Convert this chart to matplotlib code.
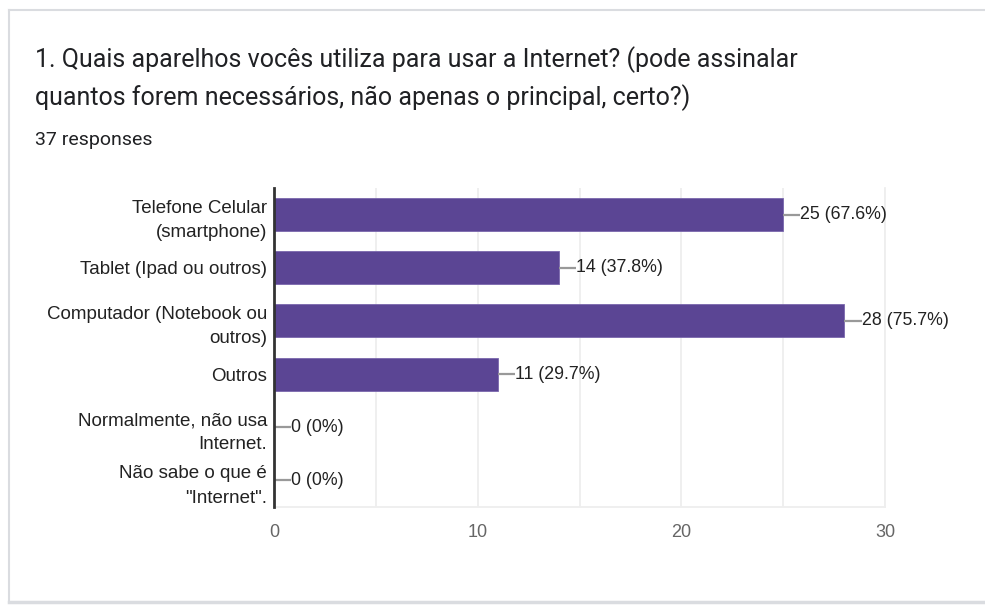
import matplotlib
matplotlib.use("Agg")
import matplotlib.pyplot as plt
from matplotlib.lines import Line2D

# survey answers
options = ["Telefone Celular\n(smartphone)", "Tablet (Ipad ou outros)",
           "Computador (Notebook ou\noutros)", "Outros",
           "Normalmente, não usa\nInternet.", "Não sabe o que é\n\"Internet\"."]
counts = [25, 14, 28, 11, 0, 0]
percents = ["67.6%", "37.8%", "75.7%", "29.7%", "0%", "0%"]
total = 37

title_lines = ["1. Quais aparelhos vocês utiliza para usar a Internet? (pode assinalar",
               "quantos forem necessários, não apenas o principal, certo?)"]

W, H = 985, 606
fig = plt.figure(figsize=(W / 100, H / 100), dpi=100)
fig.patch.set_facecolor("white")

def px(x, y):
    return x / W, 1 - y / H

# card outline
border = "#dadce0"
fig.add_artist(Line2D([9 / W, 9 / W], [1 - 10 / H, 1 - 602 / H], color=border, lw=1.5))
fig.add_artist(Line2D([9 / W, 1], [1 - 10 / H, 1 - 10 / H], color=border, lw=1.5))
fig.add_artist(Line2D([9 / W, 1], [1 - 602 / H, 1 - 602 / H], color=border, lw=2.5))

for i, line in enumerate(title_lines):
    fig.text(*px(35, 67 + 38 * i), line, fontsize=18, family="Roboto",
             color="#202124", va="baseline", ha="left")
fig.text(*px(35, 145), f"{total} responses", fontsize=14, family="Roboto",
         color="#202124", va="baseline", ha="left")

left, right, top, bottom = 274, 885, 188, 507
ax = fig.add_axes([left / W, 1 - bottom / H, (right - left) / W, (bottom - top) / H])

ypos = list(range(len(options)))
ax.barh(ypos, counts, height=0.62, color="#5b4594", edgecolor="#7a67ad",
        linewidth=0.6, zorder=3)

for y, c, p in zip(ypos, counts, percents):
    ax.plot([c, c + 0.85], [y, y], color="#999999", lw=1.6, zorder=4,
            solid_capstyle="butt")
    ax.text(c + 0.85, y, f"{c} ({p})", va="center", ha="left", fontsize=12.8,
            family="Liberation Sans", color="#222222", zorder=5)

ax.set_xlim(0, 30)
ax.set_ylim(len(options) - 0.5, -0.5)
ax.set_yticks(ypos)
ax.set_yticklabels(options, fontsize=13.5, family="Liberation Sans", color="#222222",
                   linespacing=1.55)
ax.set_xticks([0, 10, 20, 30])
ax.set_xticks([5, 15, 25], minor=True)
ax.set_xticklabels(["0", "10", "20", "30"], fontsize=13, family="Liberation Sans",
                   color="#666666")
ax.tick_params(axis="both", which="both", length=0)
ax.tick_params(axis="x", pad=12)
ax.tick_params(axis="y", pad=5)
ax.grid(axis="x", which="both", color="#eeeeee", lw=1.3, zorder=0)

ax.spines["top"].set_visible(False)
ax.spines["right"].set_color("#eeeeee")
ax.spines["right"].set_linewidth(1.3)
ax.spines["bottom"].set_color("#eeeeee")
ax.spines["bottom"].set_linewidth(1.3)
ax.spines["left"].set_color("#333333")
ax.spines["left"].set_linewidth(2)
ax.spines["left"].set_zorder(6)

fig.savefig("out.png", dpi=100)
